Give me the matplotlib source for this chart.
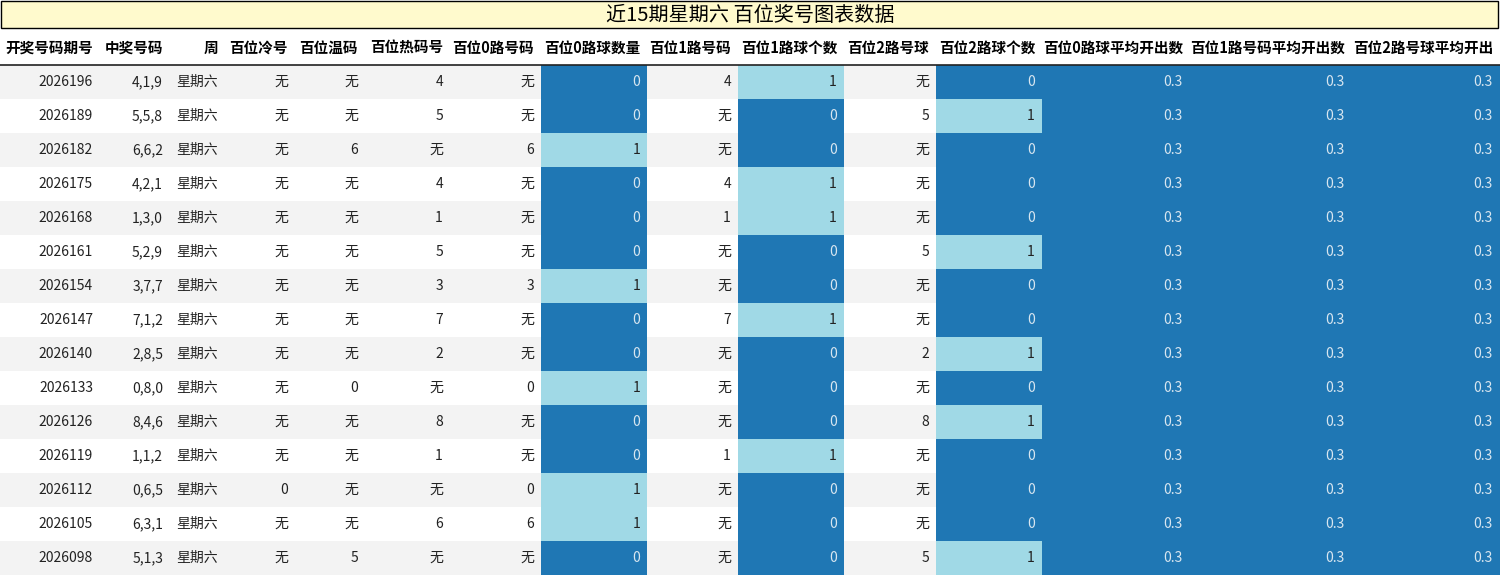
import matplotlib
matplotlib.use("Agg")
import matplotlib.pyplot as plt
from matplotlib.patches import Rectangle

plt.rcParams['font.family'] = ['Noto Sans CJK SC', 'DejaVu Sans']

title = "近15期星期六 百位奖号图表数据"
headers = ["开奖号码期号", "中奖号码", "周", "百位冷号", "百位温码", "百位热码号", "百位0路号码",
           "百位0路球数量", "百位1路号码", "百位1路球个数", "百位2路号球", "百位2路球个数",
           "百位0路球平均开出数", "百位1路号码平均开出数", "百位2路号球平均开出"]
issues = ["2026196", "2026189", "2026182", "2026175", "2026168", "2026161", "2026154", "2026147",
          "2026140", "2026133", "2026126", "2026119", "2026112", "2026105", "2026098"]
numbers = ["4,1,9", "5,5,8", "6,6,2", "4,2,1", "1,3,0", "5,2,9", "3,7,7", "7,1,2",
           "2,8,5", "0,8,0", "8,4,6", "1,1,2", "0,6,5", "6,3,1", "5,1,3"]
week = ["星期六"] * 15
cold = ["无"] * 12 + ["0", "无", "无"]
warm = ["无", "无", "6", "无", "无", "无", "无", "无", "无", "0", "无", "无", "无", "无", "5"]
hot = ["4", "5", "无", "4", "1", "5", "3", "7", "2", "无", "8", "1", "无", "6", "无"]
r0_num = ["无", "无", "6", "无", "无", "无", "3", "无", "无", "0", "无", "无", "0", "6", "无"]
r0_cnt = [0, 0, 1, 0, 0, 0, 1, 0, 0, 1, 0, 0, 1, 1, 0]
r1_num = ["4", "无", "无", "4", "1", "无", "无", "7", "无", "无", "无", "1", "无", "无", "无"]
r1_cnt = [1, 0, 0, 1, 1, 0, 0, 1, 0, 0, 0, 1, 0, 0, 0]
r2_num = ["无", "5", "无", "无", "无", "5", "无", "无", "2", "无", "8", "无", "无", "无", "5"]
r2_cnt = [0, 1, 0, 0, 0, 1, 0, 0, 1, 0, 1, 0, 0, 0, 1]
avg0 = [0.3] * 15
avg1 = [0.3] * 15
avg2 = [0.3] * 15

edges = [0, 100, 170, 225, 295, 365, 450, 541, 647, 738, 844, 936, 1042, 1190, 1352, 1500]
DARK, LIGHT = "#1f77b4", "#a0d9e6"

fig = plt.figure(figsize=(15, 5.76), dpi=100)
ax = fig.add_axes([0, 0, 1, 1])
ax.set_xlim(0, 1500)
ax.set_ylim(576, 0)
ax.axis('off')

ax.add_patch(Rectangle((1, 1), 1497, 27, facecolor="#fffacd", edgecolor="black", lw=1))
ax.text(750, 15, title, ha='center', va='center', fontsize=14.5)

for j, h in enumerate(headers):
    ax.text(edges[j + 1] - 7, 48, h, ha='right', va='center', fontsize=10.5, fontweight='bold')
ax.plot([0, 1500], [64.5, 64.5], color='#222222', lw=1.2)

cols = [issues, numbers, week, cold, warm, hot, r0_num, r0_cnt, r1_num, r1_cnt, r2_num, r2_cnt,
        avg0, avg1, avg2]
heat_cols = {7, 9, 11, 12, 13, 14}
top, rh = 65, 34
for i in range(15):
    y = top + i * rh
    bg = "#f3f3f3" if i % 2 == 0 else "white"
    ax.add_patch(Rectangle((0, y), 1500, rh, facecolor=bg, edgecolor='none'))
    for j, col in enumerate(cols):
        v = col[i]
        color = '#222222'
        if j in heat_cols:
            fc = LIGHT if (j < 12 and v == 1) else DARK
            ax.add_patch(Rectangle((edges[j], y), edges[j + 1] - edges[j], rh, facecolor=fc, edgecolor='none'))
            color = '#222222' if fc == LIGHT else '#d8e6f0'
        ax.text(edges[j + 1] - 7, y + rh / 2, str(v), ha='right', va='center', fontsize=10, color=color)

fig.savefig("out.png", dpi=100)
